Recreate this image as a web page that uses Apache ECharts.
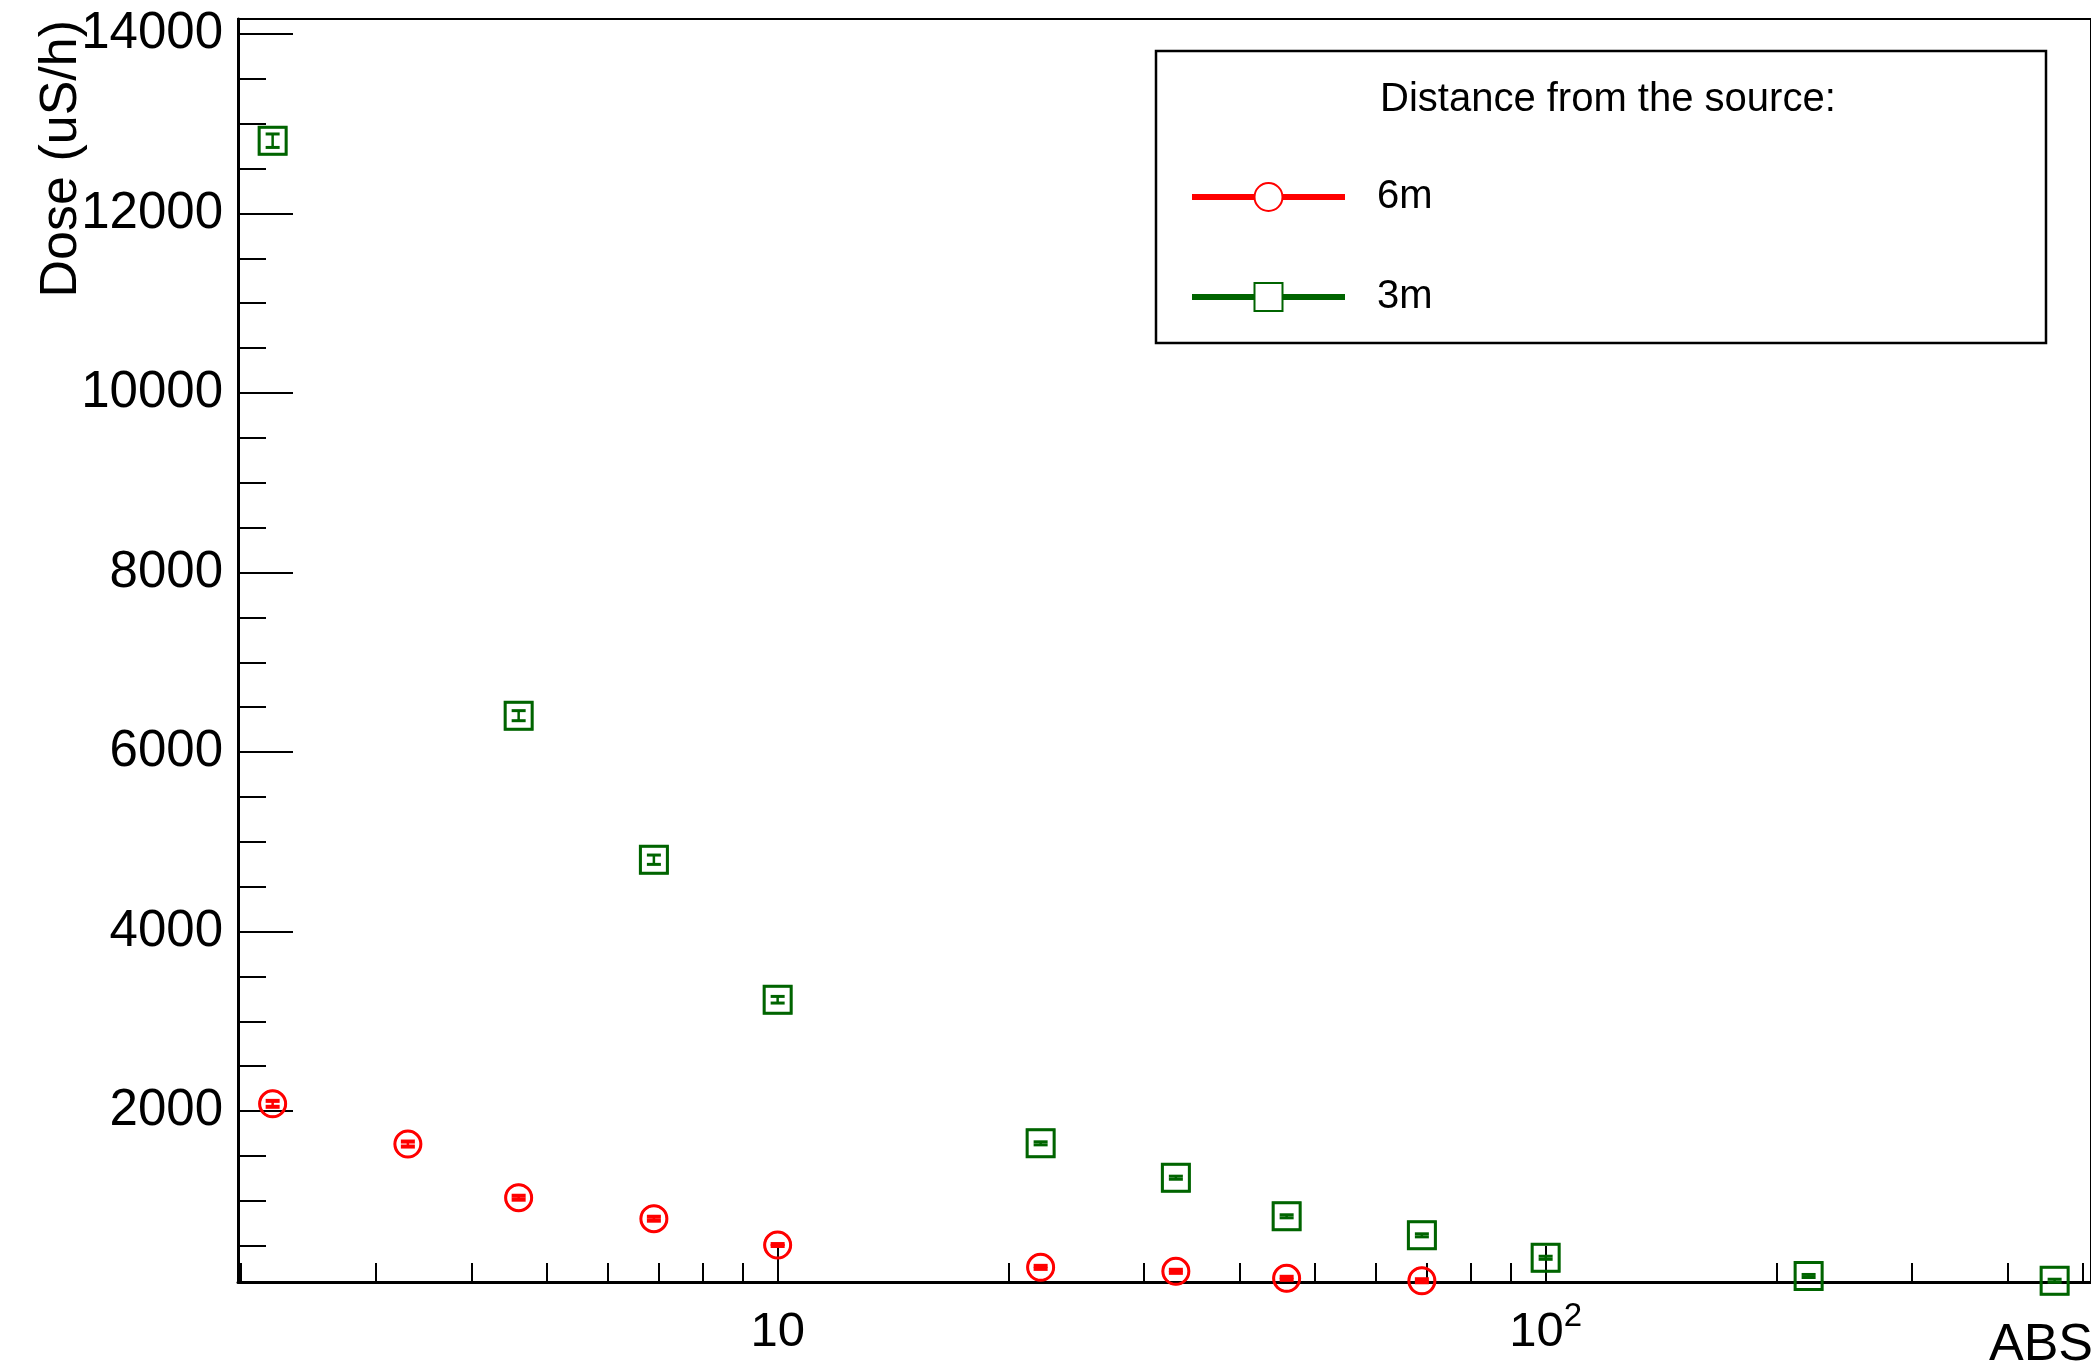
<!DOCTYPE html>
<html>
<head>
<meta charset="utf-8">
<title>Dose vs ABS</title>
<script src="https://cdn.jsdelivr.net/npm/echarts@6/dist/echarts.min.js"></script>
<style>
  html, body { margin: 0; padding: 0; background: #fff; }
  #chart { width: 2091px; height: 1370px; }
</style>
</head>
<body>
<div id="chart"></div>
<script>
// 6 m from the source
const abs6m = [2.2, 3.3, 4.6, 6.9, 10, 22, 33, 46, 69];
const dose6m = [2080, 1632, 1034, 800, 507, 258, 214, 136, 109];
const err6m = [33, 28, 22, 22, 11, 17, 17, 17, 17];

// 3 m from the source
const abs3m = [2.2, 4.6, 6.9, 10, 22, 33, 46, 69, 100, 220, 460];
const dose3m = [12811, 6405, 4800, 3240, 1640, 1257, 827, 615, 365, 162, 109];
const err3m = [75, 56, 52, 37, 17, 17, 17, 17, 17, 17, 17];

// ticks
const xMinorTicks = [2, 3, 4, 5, 6, 7, 8, 9, 20, 30, 40, 50, 60, 70, 80, 90, 200, 300, 400, 500];
const xMajorTicks = [10, 100];
const yMinorTicks = [500, 1000, 1500, 2000, 2500, 3000, 3500, 4000, 4500, 5000, 5500, 6000, 6500, 7000,
  7500, 8000, 8500, 9000, 9500, 10000, 10500, 11000, 11500, 12000, 12500, 13000, 13500, 14000];
const yMajorTicks = [2000, 4000, 6000, 8000, 10000, 12000, 14000];

const RED = '#ff0000';
const GREEN = '#006400';
const FONT = 'Liberation Sans, Arial, Helvetica, sans-serif';

const X_MIN = 1.983, X_MAX = 513;
const Y_MIN = 95, Y_MAX = 14167;

function rows(xs, ys) {
  return xs.map((x, i) => [x, ys[i]]);
}
function errRows(xs, ys, es) {
  return xs.map((x, i) => [x, ys[i], es[i]]);
}

// marker outline (3px, like ROOT) plus vertical error bar with end caps
function errorBar(color, shape, capWidth) {
  return function (params, api) {
    const x = api.value(0), y = api.value(1), e = api.value(2);
    const c = api.coord([x, y]);
    const lo = api.coord([x, y - e]);
    const hi = api.coord([x, y + e]);
    const hw = 7;
    const marker = shape === 'circle'
      ? { type: 'circle', shape: { cx: c[0], cy: c[1], r: 13 }, style: { fill: 'none', stroke: color, lineWidth: 3 } }
      : { type: 'rect', shape: { x: c[0] - 13.5, y: c[1] - 13.5, width: 27, height: 27 }, style: { fill: 'none', stroke: color, lineWidth: 3 } };
    return {
      type: 'group',
      children: [
        marker,
        { type: 'line', shape: { x1: lo[0], y1: lo[1], x2: hi[0], y2: hi[1] }, style: { stroke: color, lineWidth: 2.5 } },
        { type: 'line', shape: { x1: lo[0] - hw, y1: lo[1], x2: lo[0] + hw, y2: lo[1] }, style: { stroke: color, lineWidth: capWidth } },
        { type: 'line', shape: { x1: hi[0] - hw, y1: hi[1], x2: hi[0] + hw, y2: hi[1] }, style: { stroke: color, lineWidth: capWidth } }
      ]
    };
  };
}

const chart = echarts.init(document.getElementById('chart'));

let option = {
  animation: false,
  backgroundColor: '#fff',
  textStyle: { fontFamily: FONT },
  grid: {
    left: 238, top: 19, right: -5, bottom: 88,
    show: true, borderColor: '#000', borderWidth: 2, backgroundColor: 'transparent'
  },
  xAxis: [
    {
      type: 'log', logBase: 10, min: X_MIN, max: X_MAX, position: 'bottom', z: 3,
      axisLine: { lineStyle: { color: '#000', width: 3 } },
      axisTick: { inside: true, length: 19, lineStyle: { color: '#000', width: 2 }, customValues: xMinorTicks },
      axisLabel: {
        customValues: xMajorTicks,
        margin: 18,
        color: '#000',
        formatter: function (v) {
          return v >= 100 ? '{b|10}{s|2}' : '{b|10}';
        },
        rich: {
          b: { fontSize: 49, lineHeight: 64, fontFamily: FONT, color: '#000' },
          s: { fontSize: 33, lineHeight: 33, verticalAlign: 'top', fontFamily: FONT, color: '#000' }
        }
      },
      splitLine: { show: false },
      minorTick: { show: false }
    },
    {
      type: 'log', logBase: 10, min: X_MIN, max: X_MAX, position: 'bottom', z: 3,
      axisLine: { show: false },
      axisTick: { inside: true, length: 36, lineStyle: { color: '#000', width: 2 }, customValues: xMajorTicks },
      axisLabel: { show: false },
      splitLine: { show: false }
    }
  ],
  yAxis: [
    {
      type: 'value', min: Y_MIN, max: Y_MAX, position: 'left', z: 3,
      axisLine: { show: true, lineStyle: { color: '#000', width: 3 } },
      axisTick: { show: true, inside: true, length: 28, lineStyle: { color: '#000', width: 2 }, customValues: yMinorTicks },
      axisLabel: { show: false },
      splitLine: { show: false }
    },
    {
      type: 'value', min: Y_MIN, max: Y_MAX, position: 'left', z: 3,
      axisLine: { show: false },
      axisTick: { show: true, inside: true, length: 55, lineStyle: { color: '#000', width: 2 }, customValues: yMajorTicks },
      axisLabel: {
        customValues: yMajorTicks, fontSize: 51, color: '#000', margin: 15, fontFamily: FONT,
        formatter: function (v) { return String(v); }
      },
      splitLine: { show: false }
    }
  ],
  legend: {
    data: ['6m', '3m'],
    orient: 'vertical',
    left: 1189, top: 177,
    padding: 0,
    itemWidth: 153, itemHeight: 35, itemGap: 60,
    selectedMode: false,
    textStyle: { fontSize: 40, color: '#000', fontFamily: FONT, padding: [0, 0, 0, 27] },
    lineStyle: { width: 6, opacity: 1 },
    itemStyle: { opacity: 1 }
  },
  graphic: [
    {
      type: 'rect', z: 1,
      shape: { x: 1156, y: 51, width: 890, height: 292 },
      style: { fill: '#fff', stroke: '#000', lineWidth: 2.5 }
    },
    {
      type: 'text', z: 5, x: 1380, y: 100,
      style: { text: 'Distance from the source:', fontSize: 40, fontFamily: FONT, fill: '#000', verticalAlign: 'middle' }
    },
    {
      type: 'text', z: 5, x: 62, y: 20, rotation: Math.PI / 2,
      style: { text: 'Dose (uS/h)', fontSize: 52, fontFamily: FONT, fill: '#000', align: 'right', verticalAlign: 'middle' }
    },
    {
      type: 'text', z: 5, x: 2093, y: 1346,
      style: { text: 'ABS', fontSize: 52, fontFamily: FONT, fill: '#000', align: 'right', verticalAlign: 'middle' }
    }
  ],
  series: [
    {
      name: '6m', type: 'line', xAxisIndex: 0, yAxisIndex: 0,
      data: rows(abs6m, dose6m),
      symbol: 'emptyCircle', symbolSize: 26, showAllSymbol: true,
      itemStyle: { color: RED },
      lineStyle: { color: RED, opacity: 0 },
      z: 2
    },
    {
      name: '3m', type: 'line', xAxisIndex: 0, yAxisIndex: 0,
      data: rows(abs3m, dose3m),
      symbol: 'emptyRect', symbolSize: 27, showAllSymbol: true,
      itemStyle: { color: GREEN },
      lineStyle: { color: GREEN, opacity: 0 },
      z: 2
    },
    {
      name: '6m error', type: 'custom', xAxisIndex: 0, yAxisIndex: 0,
      data: errRows(abs6m, dose6m, err6m),
      encode: { x: 0, y: 1 },
      renderItem: errorBar(RED, 'circle', 4),
      z: 4
    },
    {
      name: '3m error', type: 'custom', xAxisIndex: 0, yAxisIndex: 0,
      data: errRows(abs3m, dose3m, err3m),
      encode: { x: 0, y: 1 },
      renderItem: errorBar(GREEN, 'rect', 3),
      z: 4
    }
  ]
};

chart.setOption(option);
</script>
</body>
</html>
